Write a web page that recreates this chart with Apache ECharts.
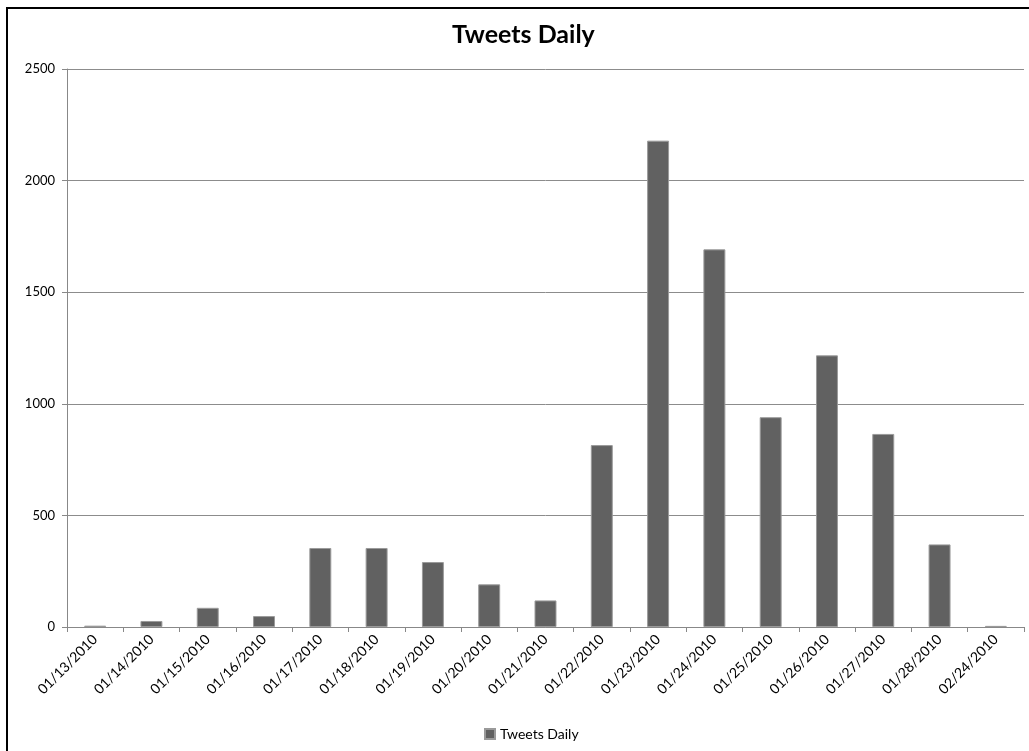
<!DOCTYPE html>
<html>
<head>
<meta charset="utf-8">
<style>
  html, body { margin: 0; padding: 0; background: #fff; }
  #chart { width: 1029px; height: 751px; }
</style>
<script src="https://cdn.jsdelivr.net/npm/echarts@6/dist/echarts.min.js"></script>
</head>
<body>
<div id="chart"></div>
<script>
// Daily tweet counts
const days = [
  '01/13/2010', '01/14/2010', '01/15/2010', '01/16/2010', '01/17/2010',
  '01/18/2010', '01/19/2010', '01/20/2010', '01/21/2010', '01/22/2010',
  '01/23/2010', '01/24/2010', '01/25/2010', '01/26/2010', '01/27/2010',
  '01/28/2010', '02/24/2010'
];
const tweets = [6, 27, 86, 49, 354, 354, 291, 191, 119, 815, 2179, 1692, 940, 1217, 865, 370, 5];
const yTicks = { min: 0, max: 2500, interval: 500 };

const font = 'Lato, "Open Sans", sans-serif';
const chart = echarts.init(document.getElementById('chart'), null, { renderer: 'canvas' });

chart.setOption({
  backgroundColor: '#ffffff',
  animation: false,
  title: {
    text: 'Tweets Daily',
    left: 447,
    top: 17,
    textStyle: { fontFamily: font, fontSize: 25, fontWeight: 'bold', color: '#000' }
  },
  legend: {
    bottom: 5,
    left: 479,
    itemWidth: 10,
    itemHeight: 10,
    itemGap: 6,
    icon: 'rect',
    textStyle: { fontFamily: font, fontSize: 14, color: '#000' },
    data: ['Tweets Daily']
  },
  grid: { left: 67, right: 5, top: 69, bottom: 124, containLabel: false },
  xAxis: {
    type: 'category',
    data: days,
    boundaryGap: true,
    axisLine: { lineStyle: { color: '#888', width: 1 } },
    axisTick: { show: true, alignWithLabel: false, length: 5, lineStyle: { color: '#888' } },
    axisLabel: {
      interval: 0,
      rotate: 45,
      margin: 10,
      fontFamily: font,
      fontSize: 14,
      color: '#000'
    }
  },
  yAxis: {
    type: 'value',
    min: yTicks.min,
    max: yTicks.max,
    interval: yTicks.interval,
    axisLine: { show: true, lineStyle: { color: '#888', width: 1 } },
    axisTick: { show: true, length: 5, lineStyle: { color: '#888' } },
    axisLabel: {
      margin: 12,
      fontFamily: font,
      fontSize: 13,
      color: '#000',
      formatter: v => String(v)
    },
    splitLine: { show: true, lineStyle: { color: '#8c8c8c', width: 1 } }
  },
  series: [{
    name: 'Tweets Daily',
    type: 'bar',
    data: tweets,
    barWidth: '39%',
    itemStyle: { color: '#616161', borderColor: '#9a9a9a', borderWidth: 1 }
  }],
  graphic: [{
    type: 'rect',
    silent: true,
    z: 100,
    shape: { x: 7, y: 8, width: 1100, height: 800 },
    style: { fill: 'none', stroke: '#000', lineWidth: 2 }
  }]
});
</script>
</body>
</html>
